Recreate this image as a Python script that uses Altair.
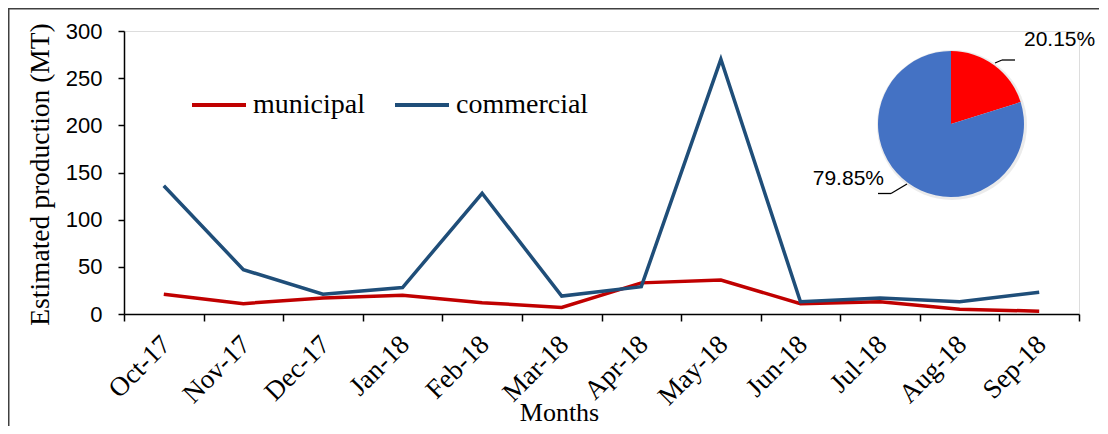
import altair as alt
import pandas as pd

months = ["Oct-17", "Nov-17", "Dec-17", "Jan-18", "Feb-18", "Mar-18",
          "Apr-18", "May-18", "Jun-18", "Jul-18", "Aug-18", "Sep-18"]
municipal = [21, 11, 17, 20, 12, 7, 33, 36, 11, 13, 5, 3]
commercial = [136, 47, 21, 28, 128, 19, 29, 270, 13, 17, 13, 23]
series = ["municipal", "commercial"]
line_colors = ["#C00000", "#1F4E79"]
y_ticks = [0, 50, 100, 150, 200, 250, 300]

pie_parts = ["municipal", "commercial"]
pie_shares = [20.15, 79.85]
pie_labels = ["20.15%", "79.85%"]
pie_colors = ["#FF0000", "#4472C4"]

rows = []
for i, m in enumerate(months):
    rows.append({"idx": i, "month": m, "series": "municipal", "value": municipal[i]})
    rows.append({"idx": i, "month": m, "series": "commercial", "value": commercial[i]})
df = pd.DataFrame(rows)

pie_df = pd.DataFrame({"part": pie_parts, "share": pie_shares,
                       "label": pie_labels, "k": list(range(len(pie_parts)))})

W, H = 955, 283
PAD_L, PAD_T, PAD_R = 116, 23, 20
TOTAL_H = 418
PAD_B = TOTAL_H - PAD_T - H
serif = "Liberation Serif"
sans = "Liberation Sans"

label_expr = "[" + ",".join("'%s'" % m for m in months) + ",''][round(datum.value + 0.5)]"

x_enc = alt.X(
    "idx:Q",
    scale=alt.Scale(domain=[-0.5, len(months) - 0.5], nice=False, zero=False),
    axis=alt.Axis(
        values=[i - 0.5 for i in range(len(months) + 1)],
        labelExpr=label_expr,
        labelAngle=-45, labelAlign="right", labelBaseline="middle",
        labelOffset=42, labelPadding=19, labelOverlap=False, labelFlush=False,
        labelFont=serif, labelFontSize=27, labelColor="black",
        tickSize=7, tickColor="black", domainColor="black", tickWidth=1.5, domainWidth=1.5,
        grid=False,
        title="Months", titleFont=serif, titleFontSize=26, titleFontWeight="normal",
        titleColor="black", titleX=435, titleY=106, titleBaseline="alphabetic",
        titleAlign="center",
    ),
)
y_enc = alt.Y(
    "value:Q",
    scale=alt.Scale(domain=[0, 300], nice=False),
    axis=alt.Axis(
        values=y_ticks, tickSize=6, labelPadding=16,
        labelFont=sans, labelFontSize=22, labelColor="black",
        tickColor="black", domainColor="black", tickWidth=1.5, domainWidth=1.5,
        grid=False,
        title="Estimated production (MT)", titleFont=serif, titleFontSize=27.5,
        titleFontWeight="normal", titleColor="black",
        titleX=-84, titleY=143, titleAngle=270, titleAlign="center", titleBaseline="middle",
    ),
)

lines = alt.Chart(df).mark_line(strokeWidth=3.5).encode(
    x=x_enc,
    y=y_enc,
    color=alt.Color(
        "series:N",
        scale=alt.Scale(domain=series, range=line_colors),
        sort=series,
        legend=alt.Legend(
            title=None, orient="none", legendX=66, legendY=45, direction="horizontal",
            symbolType="stroke", symbolSize=2916, symbolStrokeWidth=4,
            labelFont=serif, labelFontSize=28, labelColor="black", labelOffset=5,
            columnPadding=22, padding=0,
        ),
    ),
    detail="series:N",
)

CX, CY, R = 951 - 124, 124 - 31, 73

pie = alt.Chart(pie_df).mark_arc(outerRadius=R).encode(
    theta=alt.Theta("share:Q", stack=True),
    fill=alt.Fill("part:N", scale=alt.Scale(domain=pie_parts, range=pie_colors), legend=None),
    order=alt.Order("k:Q"),
    x=alt.value(CX),
    y=alt.value(CY),
)

shadow = alt.Chart(pie_df.head(1)).mark_arc(
    outerRadius=R + 2, fill="#000000", opacity=0.08, theta=0, theta2=6.2832
).encode(x=alt.value(CX + 1), y=alt.value(CY + 1))

lab1 = alt.Chart(pd.DataFrame({"label": [pie_labels[0]]})).mark_text(
    font=sans, fontSize=21, align="left", baseline="middle", color="black"
).encode(text="label:N", x=alt.value(1024 - 124), y=alt.value(40 - 31))
lab2 = alt.Chart(pd.DataFrame({"label": [pie_labels[1]]})).mark_text(
    font=sans, fontSize=21, align="right", baseline="middle", color="black"
).encode(text="label:N", x=alt.value(884 - 124), y=alt.value(179 - 31))

leaders = []
for (xa, ya, xb, yb) in [(995, 63, 1002, 60), (1002, 60, 1015, 60),
                         (878, 193.5, 891, 193.5), (891, 193.5, 907, 184)]:
    leaders.append(
        alt.Chart(pd.DataFrame({"a": [0]})).mark_rule(color="black", strokeWidth=1.3).encode(
            x=alt.value(xa - 124), y=alt.value(ya - 31),
            x2=alt.value(xb - 124), y2=alt.value(yb - 31))
    )

frame = alt.Chart(pd.DataFrame({"a": [0]})).mark_rect(
    filled=False, stroke="#404040", strokeWidth=1.5
).encode(x=alt.value(-PAD_L + 0.75), y=alt.value(-PAD_T + 0.75),
         x2=alt.value(W + PAD_R + 40), y2=alt.value(H + PAD_B + 40))

chart = alt.layer(frame, lines, shadow, pie, lab1, lab2, *leaders).resolve_scale(
    color="independent", fill="independent", theta="independent"
).properties(
    width=W, height=H,
    autosize=alt.AutoSizeParams(type="none"),
    padding={"left": PAD_L, "top": PAD_T, "right": PAD_R, "bottom": PAD_B},
).configure_view(stroke=None).configure(background="white")

chart.save("out.html", embed_options={"renderer": "svg", "actions": False})
